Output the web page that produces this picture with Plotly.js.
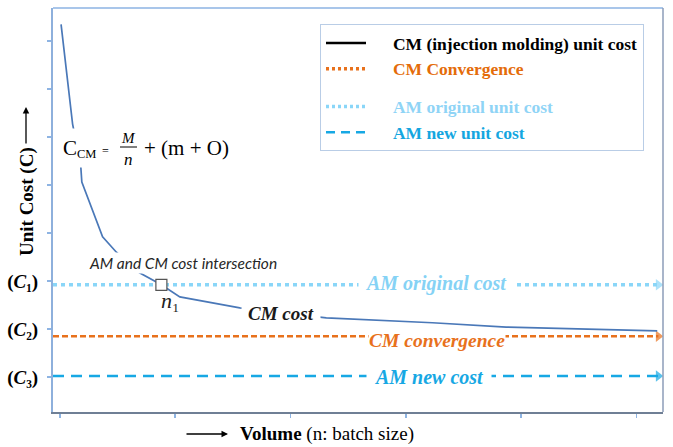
<!DOCTYPE html>
<html>
<head>
<meta charset="utf-8">
<script src="https://cdn.plot.ly/plotly-3.0.1.min.js"></script>
<style>html,body{margin:0;padding:0;background:#fff;}#chart{width:673px;height:447px;}</style>
</head>
<body>
<div id="chart"></div>
<script>
// ---- data ----
const volume = [0.01, 0.11, 0.18, 0.19, 0.37, 0.49, 0.69, 0.88, 1.04, 1.56, 2.31, 3.23, 3.87, 5.18];
const cmCost = [8.35, 6.27, 5.42, 5.06, 3.92, 3.60, 3.17, 2.92, 2.67, 2.44, 2.23, 2.13, 2.04, 1.96];
const lineX = [-0.06, 5.19];
const amOriginalCost = 2.92;
const cmConvergence = 1.85;
const amNewCost = 1.02;
const n1X = [0.88];
const n1Y = [2.92];
const xTickVals = [0, 1, 2, 3, 4, 5];
const yTickVals = [1, 2, 3];
const yMinorTickVals = [4, 5, 6, 7, 8];
const yTickText = ['(<i>C</i>\u2083)', '(<i>C</i>\u2082)', '(<i>C</i>\u2081)'];
const legendLabels = ['CM (injection molding) unit cost', 'CM Convergence', 'AM original unit cost', 'AM new unit cost'];
const legendColors = ['#000000', '#e46c0a', '#8fd4f6', '#14a6e0'];

const serif = 'Liberation Serif';
const cOrange = '#e8711c', cLight = '#8ad6f8', cBlue = '#17a8e4', cCurve = '#4a78b8';
const pad = '\u00a0\u00a0\u00a0\u00a0\u00a0';
const legendNames = legendLabels.map((t, i) => pad + '<span style="color:' + legendColors[i] + '">' + t + '</span>');

function hline(y, color, dash, width) {
  return {
    x: lineX, y: [y, y], mode: 'lines+markers', showlegend: false, hoverinfo: 'skip',
    line: {color: color, dash: dash, width: width},
    marker: {symbol: ['circle', 'triangle-right'], size: [0, 10], color: color, line: {width: 0}}
  };
}

const traces = [
  hline(amOriginalCost, cLight, '4px,4px', 3.5),
  hline(cmConvergence, cOrange, '6px,3px', 2.5),
  hline(amNewCost, cBlue, '11px,7px', 2.5),
  {x: volume, y: cmCost, mode: 'lines', showlegend: false, hoverinfo: 'skip',
   line: {color: cCurve, width: 1.7}},
  {x: n1X, y: n1Y, mode: 'markers', showlegend: false, hoverinfo: 'skip',
   marker: {symbol: 'square', size: 11, color: '#ffffff', line: {color: '#555555', width: 1.2}}},
  // legend entries
  {x: [null], y: [null], mode: 'lines', name: legendNames[0], legendgroup: 'a', line: {color: '#000000', width: 2.5}},
  {x: [null], y: [null], mode: 'lines', name: legendNames[1], legendgroup: 'a', line: {color: cOrange, width: 3.5, dash: '3px,3px'}},
  {x: [null], y: [null], mode: 'lines', name: legendNames[2], legendgroup: 'b', line: {color: cLight, width: 3.5, dash: '3px,3px'}},
  {x: [null], y: [null], mode: 'lines', name: legendNames[3], legendgroup: 'b', line: {color: cBlue, width: 2.5, dash: '9px,6px'}}
];

const L = 53, T = 8, W = 610, H = 404;
function px(x) { return (x - L) / W; }
function py(y) { return (T + H - y) / H; }

function txt(text, x, y, opts) {
  return Object.assign({xref: 'paper', yref: 'paper', x: px(x), y: py(y), text: text, showarrow: false,
    xanchor: 'center', yanchor: 'middle', font: {family: serif, size: 19, color: '#000'}}, opts || {});
}

const annotations = [
  // equation
  txt('C', 55, 148, {xanchor: 'left', bgcolor: '#fff', borderpad: 7, font: {family: serif, size: 21, color: '#000'}}),
  txt('CM', 75, 154, {xanchor: 'left', font: {family: serif, size: 12.5, color: '#000'}}),
  txt('=', 105, 151, {font: {family: serif, size: 12, color: '#000'}}),
  txt('<i>M</i>', 128, 138, {font: {family: serif, size: 15, color: '#000'}}),
  txt('<i>n</i>', 128, 159, {font: {family: serif, size: 17, color: '#000'}}),
  txt('+ (m + O)', 142, 148, {xanchor: 'left', font: {family: serif, size: 21, color: '#000'}}),
  // curve labels
  txt('AM and CM cost intersection', 183, 263, {bgcolor: '#fff', borderpad: 1, font: {family: 'Lato', size: 15.5, color: '#262626', style: 'italic'}}),
  txt('<i>n</i>\u2081', 170, 300, {font: {family: serif, size: 22, color: '#222'}}),
  txt('<b><i>CM cost</i></b>', 281, 313, {bgcolor: '#fff', borderpad: 6, font: {family: serif, size: 19, color: '#1a1a1a'}}),
  txt('<b><i>AM original cost</i></b>', 436, 283, {bgcolor: '#fff', borderpad: 6, font: {family: serif, size: 20, color: '#85d2f5'}}),
  txt('<b><i>CM convergence</i></b>', 437, 340, {bgcolor: '#fff', borderpad: 0, font: {family: serif, size: 19.5, color: '#e8711c'}}),
  txt('<b><i>AM new cost</i></b>', 429, 377, {bgcolor: '#fff', borderpad: 7, font: {family: serif, size: 20, color: '#17a8e4'}}),
  // axis titles
  txt('<b>Unit Cost (C)</b>', 27, 202, {textangle: -90, font: {family: serif, size: 19, color: '#000'}}),
  txt('<b>Volume</b> (n: batch size)', 238, 434, {xanchor: 'left', font: {family: serif, size: 19, color: '#000'}}),
  // title arrows
  {xref: 'paper', yref: 'paper', x: px(26), y: py(107), text: '', showarrow: true, axref: 'pixel', ayref: 'pixel', ax: 0, ay: 38,
   arrowhead: 2, arrowsize: 1, arrowwidth: 1.3, arrowcolor: '#000', standoff: 0, startstandoff: 0},
  {xref: 'paper', yref: 'paper', x: px(228), y: py(434), text: '', showarrow: true, axref: 'pixel', ayref: 'pixel', ax: -43, ay: 0,
   arrowhead: 2, arrowsize: 1, arrowwidth: 1.3, arrowcolor: '#000', standoff: 0, startstandoff: 0}
];

const shapes = [
  {type: 'line', xref: 'paper', yref: 'paper', x0: 0, x1: 1, y0: 1, y1: 1, line: {color: '#a9c6ea', width: 2}},
  {type: 'line', xref: 'paper', yref: 'paper', x0: 1, x1: 1, y0: 0, y1: 1, line: {color: '#8c9db8', width: 1.5}},
  {type: 'line', xref: 'paper', yref: 'paper', x0: px(120), x1: px(137), y0: py(147), y1: py(147), line: {color: '#000', width: 1}}
];

const layout = {
  width: 673, height: 447,
  margin: {l: L, r: 673 - L - W, t: T, b: 447 - T - H},
  paper_bgcolor: '#fff', plot_bgcolor: '#fff',
  xaxis: {range: [-0.06, 5.23], tickvals: xTickVals, showticklabels: false, ticks: 'outside', ticklen: 4,
          tickcolor: '#8eb4e3', tickwidth: 1.5, showgrid: false, zeroline: false, showline: true,
          linecolor: '#6f7f95', linewidth: 1.5, fixedrange: true},
  yaxis: {range: [0.27, 8.69], tickvals: yTickVals, ticktext: yTickText, ticks: 'outside', ticklen: 4,
          tickcolor: '#8eb4e3', tickwidth: 1.5, showgrid: false, zeroline: false, showline: true,
          linecolor: '#8eb0dc', linewidth: 2, ticklabelstandoff: 5,
          minor: {tickmode: 'array', tickvals: yMinorTickVals, ticks: 'outside', ticklen: 4, tickcolor: '#8eb4e3', tickwidth: 1.5, showgrid: false},
          tickfont: {family: serif, size: 19, color: '#000', weight: 'bold'}, fixedrange: true},
  showlegend: true,
  legend: {x: px(320), y: py(24), xanchor: 'left', yanchor: 'top', bgcolor: '#fff',
           bordercolor: '#b9cde6', borderwidth: 1, traceorder: 'grouped', tracegroupgap: 12,
           itemwidth: 40, font: {family: serif, size: 17.5, color: '#000', weight: 'bold'}},
  annotations: annotations,
  shapes: shapes
};

Plotly.newPlot('chart', traces, layout, {staticPlot: true, displayModeBar: false});
</script>
</body>
</html>
